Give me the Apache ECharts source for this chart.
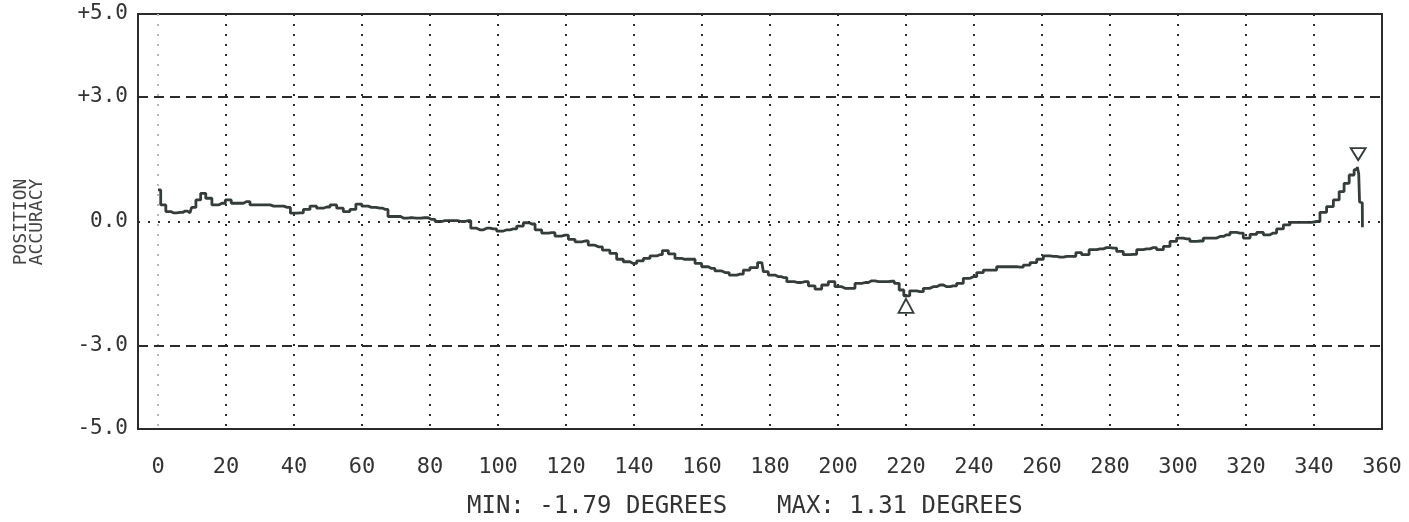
<!DOCTYPE html>
<html>
<head>
<meta charset="utf-8">
<script src="https://cdn.jsdelivr.net/npm/echarts@6.0.0/dist/echarts.min.js"></script>
<style>
 html, body { margin: 0; padding: 0; background: #fff; }
 #chart { width: 1409px; height: 522px; }
</style>
</head>
<body>
<div id="chart"></div>
<script>
// position accuracy trace (degrees -> error)
var angles = [0, 1.6, 3, 4.5, 6.5, 8, 9.4, 10.4, 11.9, 13.2, 14.9, 16.8, 18.8, 20.8, 22.3, 24.1, 26.1, 28, 30, 32,
  34, 36, 38, 39.9, 41.8, 43.7, 45.7, 47.6, 49.6, 51.6, 53.5, 55.5, 57.4, 59, 60.9, 62.8, 65.3, 66.9, 68.4, 70.4,
  72.3, 74.1, 76.1, 78.4, 80.5, 82.5, 84.4, 86.9, 89.3, 91.3, 92.7, 94.7, 96.7, 98.6, 100.6, 102.6, 104.5, 106.5, 108.4, 109.9,
  111.9, 113.8, 115.8, 117.7, 119.7, 121.7, 123.6, 125.6, 127.5, 129.5, 131.9, 133.9, 135.9, 137.8, 139.8, 141.8, 143.7, 145.7, 147.6, 149.1,
  151.1, 153, 155, 157, 158.9, 160.9, 162.8, 164.8, 166.8, 169.2, 171.2, 173.1, 175.1, 177.6, 178.5, 180.5, 182.5, 184, 185.9, 188.3,
  190.3, 192.3, 194.2, 196.2, 198.1, 200.1, 202.1, 204, 206, 208, 209.9, 211.9, 213.8, 215.8, 217.3, 218.7, 220, 222.2, 224.1, 226.1,
  228, 230, 232, 233.9, 235.9, 237.8, 239.8, 241.8, 243.7, 245.7, 247.6, 249.6, 251.6, 253.5, 255.5, 257.5, 259.4, 261.4, 263.3, 265.3,
  267.3, 269.2, 270.7, 272.6, 275.1, 277.1, 279, 281, 282.9, 284.9, 286.9, 288.8, 290.8, 292.7, 294.7, 296.7, 298.6, 300.6, 302.5, 304.5,
  306.5, 308.4, 310.4, 312.4, 314.3, 316.3, 318.2, 320.2, 322.2, 324.1, 326.1, 328, 330, 332, 333.9, 335.9, 337.8, 340.8, 342.7, 344.7,
  346.7, 348.1, 349.6, 351.1, 352.5, 353, 353.3, 353.5, 354.2, 354.3];
var errors = [0.76, 0.40, 0.24, 0.21, 0.22, 0.25, 0.21, 0.34, 0.52, 0.68, 0.56, 0.40, 0.44, 0.52, 0.44, 0.44, 0.48, 0.40, 0.40, 0.40,
  0.37, 0.37, 0.34, 0.20, 0.21, 0.29, 0.37, 0.32, 0.35, 0.40, 0.32, 0.24, 0.29, 0.42, 0.37, 0.34, 0.32, 0.29, 0.12, 0.12,
  0.08, 0.09, 0.08, 0.09, 0.05, 0.00, 0.02, 0.02, 0.00, 0.02, -0.16, -0.20, -0.16, -0.18, -0.23, -0.20, -0.18, -0.11, -0.03, -0.06,
  -0.20, -0.28, -0.27, -0.35, -0.33, -0.43, -0.49, -0.47, -0.57, -0.61, -0.69, -0.77, -0.91, -0.97, -1.01, -0.95, -0.89, -0.83, -0.80, -0.70,
  -0.78, -0.89, -0.91, -0.91, -1.01, -1.09, -1.13, -1.19, -1.23, -1.29, -1.27, -1.17, -1.11, -0.99, -1.21, -1.29, -1.33, -1.35, -1.45, -1.47,
  -1.45, -1.55, -1.63, -1.53, -1.45, -1.57, -1.61, -1.61, -1.49, -1.47, -1.43, -1.45, -1.45, -1.44, -1.49, -1.65, -1.79, -1.67, -1.69, -1.61,
  -1.57, -1.53, -1.57, -1.55, -1.49, -1.37, -1.33, -1.23, -1.17, -1.17, -1.09, -1.09, -1.09, -1.10, -1.05, -0.99, -0.91, -0.83, -0.84, -0.86,
  -0.84, -0.84, -0.75, -0.80, -0.68, -0.66, -0.63, -0.64, -0.72, -0.80, -0.79, -0.68, -0.66, -0.63, -0.68, -0.60, -0.48, -0.40, -0.42, -0.48,
  -0.47, -0.40, -0.40, -0.36, -0.32, -0.26, -0.28, -0.40, -0.31, -0.26, -0.32, -0.28, -0.18, -0.08, -0.02, -0.02, -0.02, 0.00, 0.22, 0.36,
  0.52, 0.72, 0.92, 1.12, 1.25, 1.31, 1.15, 0.47, 0.45, -0.14];

var minPoint = [220, -1.79];
var maxPoint = [353, 1.31];

var yTickValues = [5, 3, 0, -3, -5];
var yTickLabels = ['+5.0', '+3.0', '0.0', '-3.0', '-5.0'];
var dashedLevels = [3, -3];
var dottedLevels = [0];

var footerTexts = ['MIN: -1.79 DEGREES', 'MAX: 1.31 DEGREES'];

var ink = '#2b2b2b';
var mono = '"DejaVu Sans Mono", "Liberation Mono", monospace';

var chart = echarts.init(document.getElementById('chart'));

var seriesData = angles.map(function (a, i) { return [a, errors[i]]; });

// first vertical gridline (0 deg) is faint on the print
var gridColors = ['#b8b8b8'];
for (var k = 1; k < 19; k++) gridColors.push(ink);

var levelLines = [];
dashedLevels.forEach(function (v) {
  levelLines.push({ yAxis: v, lineStyle: { type: [10, 6], width: 2, color: ink } });
});
dottedLevels.forEach(function (v) {
  levelLines.push({ yAxis: v, lineStyle: { type: [2, 8], width: 2, color: ink } });
});

var option = {
  animation: false,
  backgroundColor: '#fff',
  grid: [
    // outer frame
    { left: 138, right: 27, top: 14, bottom: 93, show: true, borderColor: ink, borderWidth: 2, backgroundColor: 'transparent' },
    // plotting area (0..360 deg)
    { left: 158, right: 27, top: 14, bottom: 93 }
  ],
  xAxis: [
    { gridIndex: 0, type: 'value', min: 0, max: 1, show: false },
    {
      gridIndex: 1, type: 'value', min: 0, max: 360, interval: 20,
      axisLine: { show: false }, axisTick: { show: false },
      axisLabel: { color: '#333', fontFamily: mono, fontSize: 22, margin: 27 },
      splitLine: { show: true, lineStyle: { type: [2, 8], width: 2, color: gridColors } }
    }
  ],
  yAxis: [
    { gridIndex: 0, type: 'value', min: -5, max: 5, show: false },
    {
      gridIndex: 1, type: 'value', min: -5, max: 5, interval: 1,
      axisLine: { show: false }, axisTick: { show: false },
      splitLine: { show: false },
      axisLabel: {
        color: '#333', fontFamily: mono, fontSize: 21, margin: 30,
        formatter: function (v) {
          var i = yTickValues.indexOf(v);
          return i >= 0 ? yTickLabels[i] : '';
        }
      }
    }
  ],
  series: [
    {
      type: 'line', xAxisIndex: 0, yAxisIndex: 0, data: [], silent: true,
      markLine: { silent: true, symbol: 'none', label: { show: false }, data: levelLines }
    },
    {
      type: 'line', xAxisIndex: 1, yAxisIndex: 1,
      data: seriesData, step: 'middle', showSymbol: false,
      lineStyle: { color: '#343d39', width: 2.8 },
      markPoint: {
        silent: true,
        label: { show: false },
        itemStyle: { color: '#fff', borderColor: '#343d39', borderWidth: 1.8 },
        data: [
          { coord: minPoint, symbol: 'path://M7,0 L14,13 L0,13 Z', symbolSize: [15, 14], symbolOffset: [0, 10] },
          { coord: maxPoint, symbol: 'path://M0,0 L14,0 L7,12 Z', symbolSize: [15, 12], symbolOffset: [0, -13] }
        ]
      }
    }
  ],
  graphic: [
    {
      type: 'text', x: 29, y: 222, rotation: Math.PI / 2,
      style: { text: 'POSITION\nACCURACY', font: '18px ' + mono, fill: '#444', align: 'center', verticalAlign: 'middle', lineHeight: 16 }
    },
    {
      type: 'text', x: 467, y: 507,
      style: { text: footerTexts[0], font: '24px ' + mono, fill: '#333', align: 'left', verticalAlign: 'middle' }
    },
    {
      type: 'text', x: 777, y: 507,
      style: { text: footerTexts[1], font: '24px ' + mono, fill: '#333', align: 'left', verticalAlign: 'middle' }
    }
  ]
};

chart.setOption(option);
</script>
</body>
</html>
